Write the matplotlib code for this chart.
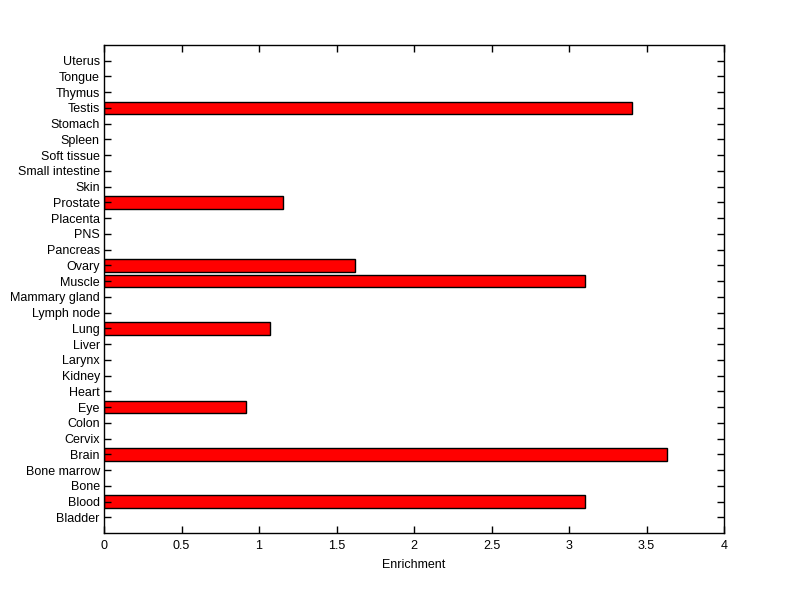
import numpy as np
import matplotlib
matplotlib.use('Agg')
import matplotlib.pyplot as plt

plt.rcParams['font.family'] = ['Liberation Sans', 'DejaVu Sans']

# tissues, bottom to top
tissues = ['Bladder', 'Blood', 'Bone', 'Bone marrow', 'Brain', 'Cervix', 'Colon',
           'Eye', 'Heart', 'Kidney', 'Larynx', 'Liver', 'Lung', 'Lymph node',
           'Mammary gland', 'Muscle', 'Ovary', 'Pancreas', 'PNS', 'Placenta',
           'Prostate', 'Skin', 'Small intestine', 'Soft tissue', 'Spleen',
           'Stomach', 'Testis', 'Thymus', 'Tongue', 'Uterus']
enrichment = [0, 3.105, 0, 0, 3.635, 0, 0,
              0.918, 0, 0, 0, 0, 1.072, 0,
              0, 3.103, 1.621, 0, 0, 0,
              1.154, 0, 0, 0, 0,
              0, 3.406, 0, 0, 0]
xticks = [0, 0.5, 1, 1.5, 2, 2.5, 3, 3.5, 4]

pos = np.arange(1, len(tissues) + 1)

fig = plt.figure(figsize=(8, 5.99), dpi=100)
ax = fig.add_axes([0.13, 0.11, 0.775, 0.815])

vals = np.array(enrichment)
keep = vals > 0
ax.barh(pos[keep], vals[keep], height=0.8, color='#ff0000',
        edgecolor='black', linewidth=1)

ax.set_xlim(0, 4)
ax.set_ylim(0, len(tissues) + 1)
ax.set_xticks(xticks)
ax.set_xticklabels(['0', '0.5', '1', '1.5', '2', '2.5', '3', '3.5', '4'])
ax.set_yticks(pos)
ax.set_yticklabels(tissues)
ax.tick_params(direction='in', length=5, width=1, labelsize=9,
               top=True, right=True)
ax.tick_params(axis='x', pad=5)
ax.tick_params(axis='y', pad=3)
for s in ax.spines.values():
    s.set_linewidth(1)
ax.set_xlabel('Enrichment', fontsize=9, labelpad=5)

fig.savefig('out.png', dpi=100)
